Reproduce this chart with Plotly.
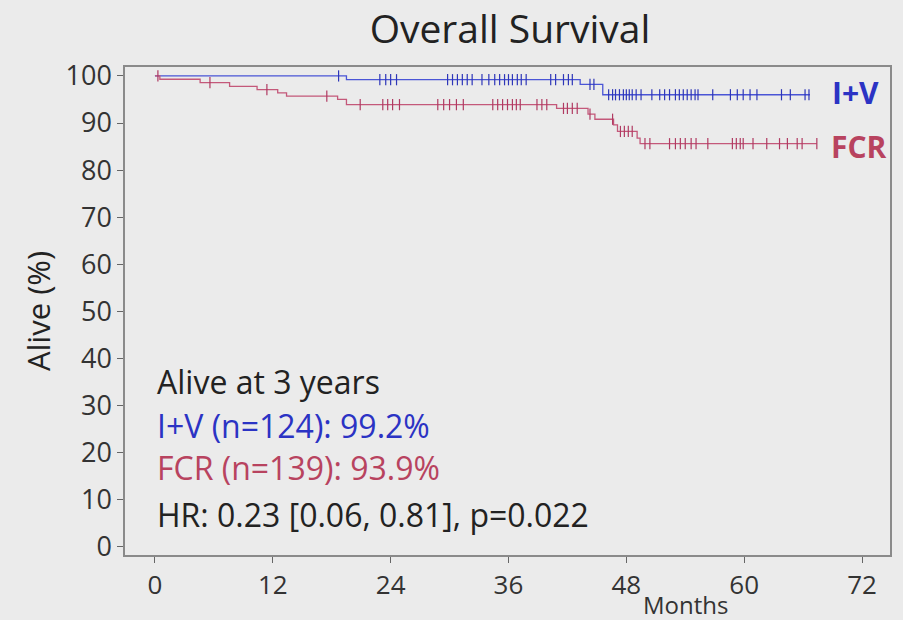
import numpy as np
import plotly.graph_objects as go

# ---------------- data ----------------
# I+V arm: step times (months) and survival (%) after each step
iv_times = [0, 19.5, 43.3, 45.6, 66.7]
iv_surv = [100, 99.2, 98.2, 96.0, 96.0]
iv_censor = [18.7, 22.9, 23.5, 24.0, 24.6, 29.8, 30.3, 30.8, 31.3, 31.8, 32.3,
             33.3, 34.0, 34.6, 35.1, 35.6, 36.0, 36.4, 36.9, 37.3, 37.8, 40.3,
             40.8, 41.6, 42.1, 42.5, 44.3, 44.7, 46.2, 46.6, 46.9, 47.3, 47.7,
             48.0, 48.3, 48.6, 49.0, 49.5, 50.6, 51.4, 51.9, 52.4, 53.0, 53.4,
             53.8, 54.2, 54.6, 55.0, 55.3, 56.8, 58.6, 59.3, 59.9, 60.6, 61.3,
             63.8, 64.7, 66.2, 66.6]

# FCR arm
fcr_times = [0, 0.5, 4.6, 7.6, 10.4, 12.5, 13.4, 18.6, 19.5, 40.9, 44.1, 44.8,
             46.7, 47.1, 49.1, 49.4, 67.4]
fcr_surv = [100, 99.3, 98.6, 97.8, 97.1, 96.4, 95.7, 95.0, 93.9, 93.1, 91.9,
            90.8, 89.6, 88.2, 86.8, 85.6, 85.6]
fcr_censor = [0.3, 5.6, 11.4, 17.5, 20.9, 23.2, 23.7, 24.2, 24.9, 28.8, 29.4,
              30.0, 30.7, 31.4, 34.4, 34.9, 35.4, 35.9, 36.4, 36.8, 37.2, 38.9,
              39.4, 39.9, 41.6, 42.0, 42.5, 43.0, 44.3, 46.6, 47.4, 47.8, 48.2,
              48.6, 49.9, 50.4, 52.4, 53.0, 53.5, 54.0, 54.6, 55.1, 56.3, 58.8,
              59.2, 59.6, 59.9, 60.9, 62.3, 63.6, 64.4, 65.4, 65.9, 67.4]

x_ticks = [0, 12, 24, 36, 48, 60, 72]
y_ticks = list(range(0, 101, 10))

BLUE_LINE = "#4a55d6"
BLUE_MARK = "#2e36b8"
BLUE_TXT = "#2b33c4"
RED_LINE = "#c4587a"
RED_MARK = "#b03a62"
RED_TXT = "#b8435f"
BG = "#ebebeb"
FONT = "Open Sans"

W, H = 903, 620
ML, MR, MT, MB = 125, 13, 67, 65
PW, PH = W - ML - MR, H - MT - MB


def px(x, y):
    return (x - ML) / PW, (H - MB - y) / PH


def step_value(times, surv, t):
    idx = np.searchsorted(np.asarray(times), t, side="right") - 1
    return np.asarray(surv)[max(idx, 0)]


fig = go.Figure()

for times, surv, cens, lc, mc in [
    (iv_times, iv_surv, iv_censor, BLUE_LINE, BLUE_MARK),
    (fcr_times, fcr_surv, fcr_censor, RED_LINE, RED_MARK),
]:
    fig.add_trace(go.Scatter(x=times, y=surv, mode="lines",
                             line=dict(color=lc, width=1.3, shape="hv"),
                             hoverinfo="skip", showlegend=False))
    cy = [step_value(times, surv, t) for t in cens]
    fig.add_trace(go.Scatter(x=cens, y=cy, mode="markers",
                             marker=dict(symbol="line-ns", size=8,
                                         line=dict(color=mc, width=1.2)),
                             hoverinfo="skip", showlegend=False))


def add_text(x, y, text, size, color, anchor="left"):
    ax, ay = px(x, y)
    fig.add_annotation(x=ax, y=ay, xref="paper", yref="paper",
                       xanchor=anchor, yanchor="middle", showarrow=False,
                       text=text, font=dict(family=FONT, size=size, color=color))


add_text(155, 381, "Alive at 3 years", 32, "#222222")
add_text(155, 425, "I+V (n=124): 99.2%", 32, BLUE_TXT)
add_text(155, 467, "FCR (n=139): 93.9%", 32, RED_TXT)
add_text(155, 514, "HR: 0.23 [0.06, 0.81], p=0.022", 32, "#222222")

add_text(830, 92, "<b>I+V</b>", 30, BLUE_TXT)
add_text(829, 146, "<b>FCR</b>", 30, RED_TXT)
add_text(685, 604, "Months", 24, "#333333", anchor="center")

fig.update_layout(
    width=W, height=H,
    paper_bgcolor=BG, plot_bgcolor=BG,
    margin=dict(l=ML, r=MR, t=MT, b=MB),
    font=dict(family=FONT, color="#333333"),
    title=dict(text="Overall Survival", x=510 / W, xanchor="center",
               y=1 - 29 / H, yanchor="middle",
               font=dict(family=FONT, size=39, color="#222222")),
    xaxis=dict(range=[-3.05, 74.85], tickvals=x_ticks, ticktext=[str(v) for v in x_ticks],
               showgrid=False, zeroline=False, showline=True, mirror=True,
               linecolor="#8a8a8a", linewidth=1.5, ticks="outside", ticklen=6,
               tickcolor="#666666", tickfont=dict(family=FONT, size=26, color="#333333")),
    yaxis=dict(range=[-1.8, 101.9], tickvals=y_ticks, ticktext=[str(v) for v in y_ticks],
               showgrid=False, zeroline=False, showline=True, mirror=True,
               linecolor="#8a8a8a", linewidth=1.5, ticks="outside", ticklen=6,
               tickcolor="#666666", tickfont=dict(family=FONT, size=27, color="#333333"),
               title=dict(text="Alive (%)", standoff=6,
                          font=dict(family=FONT, size=31, color="#222222"))),
)

fig.write_html("out.html")
